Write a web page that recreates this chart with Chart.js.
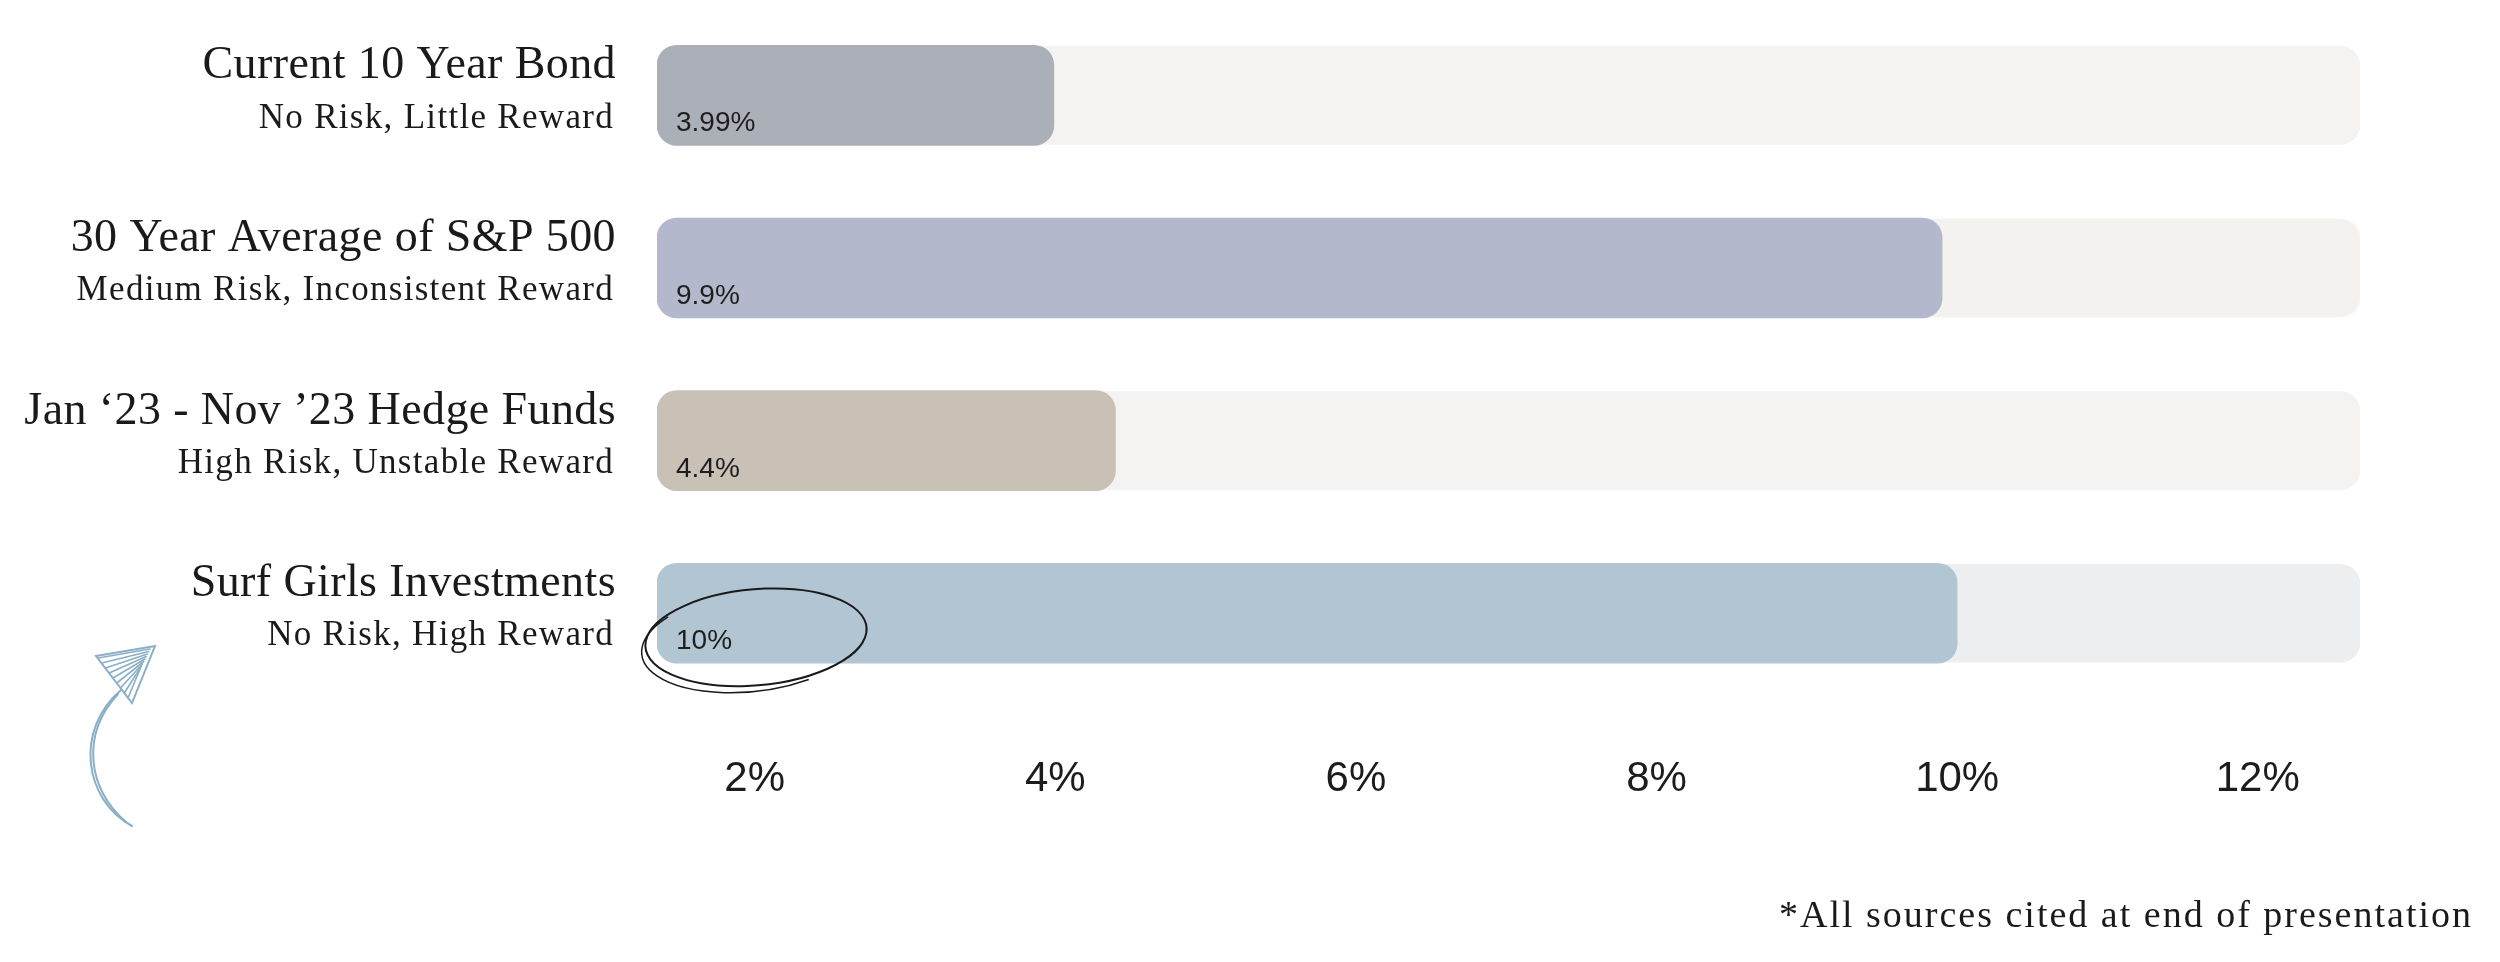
<!DOCTYPE html>
<html>
<head>
<meta charset="utf-8">
<script src="https://cdn.jsdelivr.net/npm/chart.js@4.4.0/dist/chart.umd.min.js"></script>
<style>
  html, body { margin: 0; padding: 0; background: #ffffff; }
  #wrap { width: 2500px; height: 962px; }
</style>
</head>
<body>
<div id="wrap"><canvas id="returnsChart"></canvas></div>
<script>
const categories = ['Current 10 Year Bond', '30 Year Average of S&P 500', 'Jan \u201823 - Nov \u201923 Hedge Funds', 'Surf Girls Investments'];
const riskNotes = ['No Risk, Little Reward', 'Medium Risk, Inconsistent Reward', 'High Risk, Unstable Reward', 'No Risk, High Reward'];
const returns = [3.99, 9.9, 4.4, 10];
const valueLabels = ['3.99%', '9.9%', '4.4%', '10%'];
const tickValues = [2, 4, 6, 8, 10, 12];
const axisMin = 1.35;
const axisMax = 12.68;
const footnote = '*All sources cited at end of presentation';

const barColors = ['#abafb8', '#b4b8cc', '#c9c0b6', '#b1c5d2'];
const trackColors = ['#f4f3f2', '#f4f1ef', '#f4f3f1', '#edeef0'];

// text, doodles and footnote drawn on top of the bars
const rowText = {
    id: 'rowText',
    afterDatasetsDraw(chart) {
        const ctx = chart.ctx;
        const bars = chart.getDatasetMeta(0).data;
        ctx.save();
        ctx.fillStyle = '#1e1e1e';
        ctx.font = '28px "Liberation Sans", Arial, sans-serif';
        ctx.textAlign = 'left';
        ctx.textBaseline = 'alphabetic';
        bars.forEach((bar, i) => {
            ctx.fillText(valueLabels[i], bar.base + 19, bar.y + bar.height / 2 - 14);
        });
        ctx.restore();
    },
    afterDraw(chart) {
        const ctx = chart.ctx;
        const bars = chart.getDatasetMeta(0).data;
        ctx.save();
        ctx.fillStyle = '#1a1a1a';
        ctx.textAlign = 'right';
        ctx.textBaseline = 'middle';
        bars.forEach((bar, i) => {
            ctx.letterSpacing = '0.4px';
            ctx.font = '46px "Liberation Serif", serif';
            ctx.fillText(categories[i], 616, bar.y - 29);
            ctx.letterSpacing = '1.3px';
            ctx.font = '35px "Liberation Serif", serif';
            ctx.fillText(riskNotes[i], 614, bar.y + 23);
        });

        ctx.letterSpacing = '2px';
        ctx.font = '38px "Liberation Serif", serif';
        ctx.fillText(footnote, 2473, 917);
        ctx.letterSpacing = '0px';

        // hand drawn ring round the last value
        const last = bars[bars.length - 1];
        const lx = last.base + 19;
        const ly = last.y + last.height / 2 - 14;
        const cx = lx + 80, cy = ly - 12;
        ctx.strokeStyle = '#1a1a1a';
        ctx.lineWidth = 2;
        ctx.beginPath();
        ctx.ellipse(cx, cy, 111, 48, -0.09, -1.45, -1.45 + Math.PI * 2.05);
        ctx.stroke();
        ctx.lineWidth = 1.5;
        ctx.beginPath();
        ctx.ellipse(cx - 3, cy + 4, 112, 50, -0.12, 1.1, 3.9);
        ctx.stroke();

        // blue arrow doodle
        ctx.strokeStyle = '#8bafc7';
        ctx.lineWidth = 2;
        ctx.lineCap = 'round';
        ctx.beginPath();
        ctx.moveTo(132, 826);
        ctx.bezierCurveTo(84, 800, 74, 730, 121, 690);
        ctx.stroke();
        ctx.beginPath();
        ctx.moveTo(126, 822);
        ctx.bezierCurveTo(88, 790, 80, 735, 118, 694);
        ctx.stroke();
        ctx.beginPath();
        ctx.moveTo(96, 656);
        ctx.lineTo(155, 646);
        ctx.lineTo(132, 703);
        ctx.closePath();
        ctx.stroke();
        ctx.lineWidth = 1.6;
        for (let k = 0; k < 9; k++) {
            const t = k / 8;
            ctx.beginPath();
            ctx.moveTo(98 + t * 30, 658 + t * 40);
            ctx.lineTo(150 - t * 10, 649 + t * 20);
            ctx.stroke();
        }
        ctx.restore();
    }
};

new Chart(document.getElementById('returnsChart').getContext('2d'), {
    type: 'bar',
    data: {
        labels: categories,
        datasets: [{
            data: returns.map(v => [axisMin, v]),
            backgroundColor: barColors,
            borderRadius: 20,
            borderSkipped: false,
            barThickness: 100,
            grouped: false
        }, {
            data: categories.map(() => [axisMin, axisMax]),
            backgroundColor: trackColors,
            borderRadius: 20,
            borderSkipped: false,
            barThickness: 98,
            grouped: false
        }]
    },
    options: {
        indexAxis: 'y',
        responsive: true,
        maintainAspectRatio: false,
        animation: false,
        layout: {
            padding: { left: 657, right: 140, top: 9, bottom: 102 }
        },
        plugins: {
            legend: { display: false },
            tooltip: { enabled: false }
        },
        scales: {
            x: {
                min: axisMin,
                max: axisMax,
                grid: { display: false, drawTicks: false },
                border: { display: false },
                afterBuildTicks: scale => {
                    scale.ticks = tickValues.map(v => ({ value: v }));
                },
                ticks: {
                    padding: 55,
                    color: '#1c1c1c',
                    font: { family: '"Liberation Sans", Arial, sans-serif', size: 42 },
                    callback: v => v + '%'
                }
            },
            y: {
                display: false
            }
        }
    },
    plugins: [rowText]
});
</script>
</body>
</html>
